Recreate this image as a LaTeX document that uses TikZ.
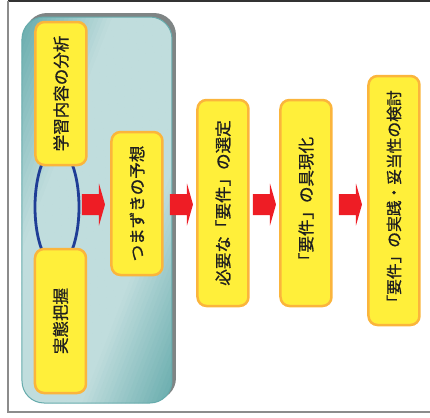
\documentclass[tikz,border=0pt]{standalone}
\usepackage{fontspec}
\newfontfamily\jp{Noto Sans CJK JP}[FakeBold=0.9]
\usetikzlibrary{calc,shapes.geometric}
\definecolor{boxY}{HTML}{FFEF3A}
\definecolor{boxO}{HTML}{FBB53C}
\definecolor{redA}{HTML}{EE1D25}
\definecolor{blueE}{HTML}{1F3D96}
\definecolor{tealD}{HTML}{66ABAC}
\definecolor{tealL}{HTML}{C0DDDD}
\definecolor{shadowG}{HTML}{7F8585}
\def\px{0.75pt}
\tikzset{
  box/.style={draw=boxO, fill=boxY, line width=2.5*\px, rounded corners=9*\px,
    minimum width=51*\px, inner sep=0pt, text=black!88,
    font=\jp\fontsize{12.4}{14}\selectfont},
  redarrow/.style={fill=redA},
}
\newcommand\blockarrow[2]{%
  \fill[redarrow] ($(#1)+(0,-10.5)$) -- ($(#2)+(-6,-10.5)$) -- ($(#2)+(-6,-21)$)
    -- (#2) -- ($(#2)+(-6,21)$) -- ($(#2)+(-6,10.5)$) -- ($(#1)+(0,10.5)$) -- cycle;}
\begin{document}
\begin{tikzpicture}[x=0.75pt,y=-0.75pt]
\useasboundingbox (0,0) rectangle (430,418);
% frame
\draw[black!80, line width=1.2*\px] (8,1) -- (430,1);
\draw[black!45, line width=1.8*\px] (8,1) -- (8,412) -- (430,412);
% teal group
\fill[shadowG, rounded corners=22*\px] (25,13) rectangle (176,400);
\begin{scope}
  \clip[rounded corners=22*\px] (22,17) rectangle (172,403);
  \foreach \t in {0,4,...,276}{
    \pgfmathsetmacro\m{min(100,min((\t+2)/0.85,(278-\t)/0.85))}
    \fill[tealL!\m!tealD]
      ({22+\t*0.9324+450*0.3623},{17+\t*0.3623-450*0.9324}) --
      ({22+(\t+4.6)*0.9324+450*0.3623},{17+(\t+4.6)*0.3623-450*0.9324}) --
      ({22+(\t+4.6)*0.9324-450*0.3623},{17+(\t+4.6)*0.3623+450*0.9324}) --
      ({22+\t*0.9324-450*0.3623},{17+\t*0.3623+450*0.9324}) -- cycle;
  }
\end{scope}
\draw[tealD, line width=1*\px, rounded corners=22*\px] (22,17) rectangle (172,403);
% ellipse
\node[draw=blueE, line width=2.8*\px, ellipse, minimum width=44*\px, minimum height=118*\px, inner sep=0pt] (ell) at (57,207) {};
% boxes
\node[box, minimum height=143*\px] (b1) at (61,93.5) {\rotatebox{90}{学習内容の分析}};
\node[box, minimum height=144*\px] (b2) at (60.5,321) {\rotatebox{90}{実態把握}};
\node[box, minimum height=143*\px] (b3) at (137,203.5) {\rotatebox{90}{つまずきの予想}};
\node[box, minimum height=206*\px] (b4) at (223,203) {\rotatebox{90}{必要な「要件」の選定}};
\node[box, minimum height=206*\px] (b5) at (306,203) {\rotatebox{90}{「要件」の具現化}};
\node[box, minimum height=249*\px, font=\jp\fontsize{11.8}{14}\selectfont] (b6) at (394,200.5) {\rotatebox{90}{「要件」の実践・妥当性の検討}};
% arrows
\coordinate (a1s) at (82,204.5);  \coordinate (a1e) at (105,204.5);
\coordinate (a2s) at (170,204.5); \coordinate (a2e) at (193,204.5);
\coordinate (a3s) at (253,204.5); \coordinate (a3e) at (276,204.5);
\coordinate (a4s) at (339,204.5); \coordinate (a4e) at (362,204.5);
\blockarrow{a1s}{a1e}
\blockarrow{a2s}{a2e}
\blockarrow{a3s}{a3e}
\blockarrow{a4s}{a4e}
\end{tikzpicture}
\end{document}
